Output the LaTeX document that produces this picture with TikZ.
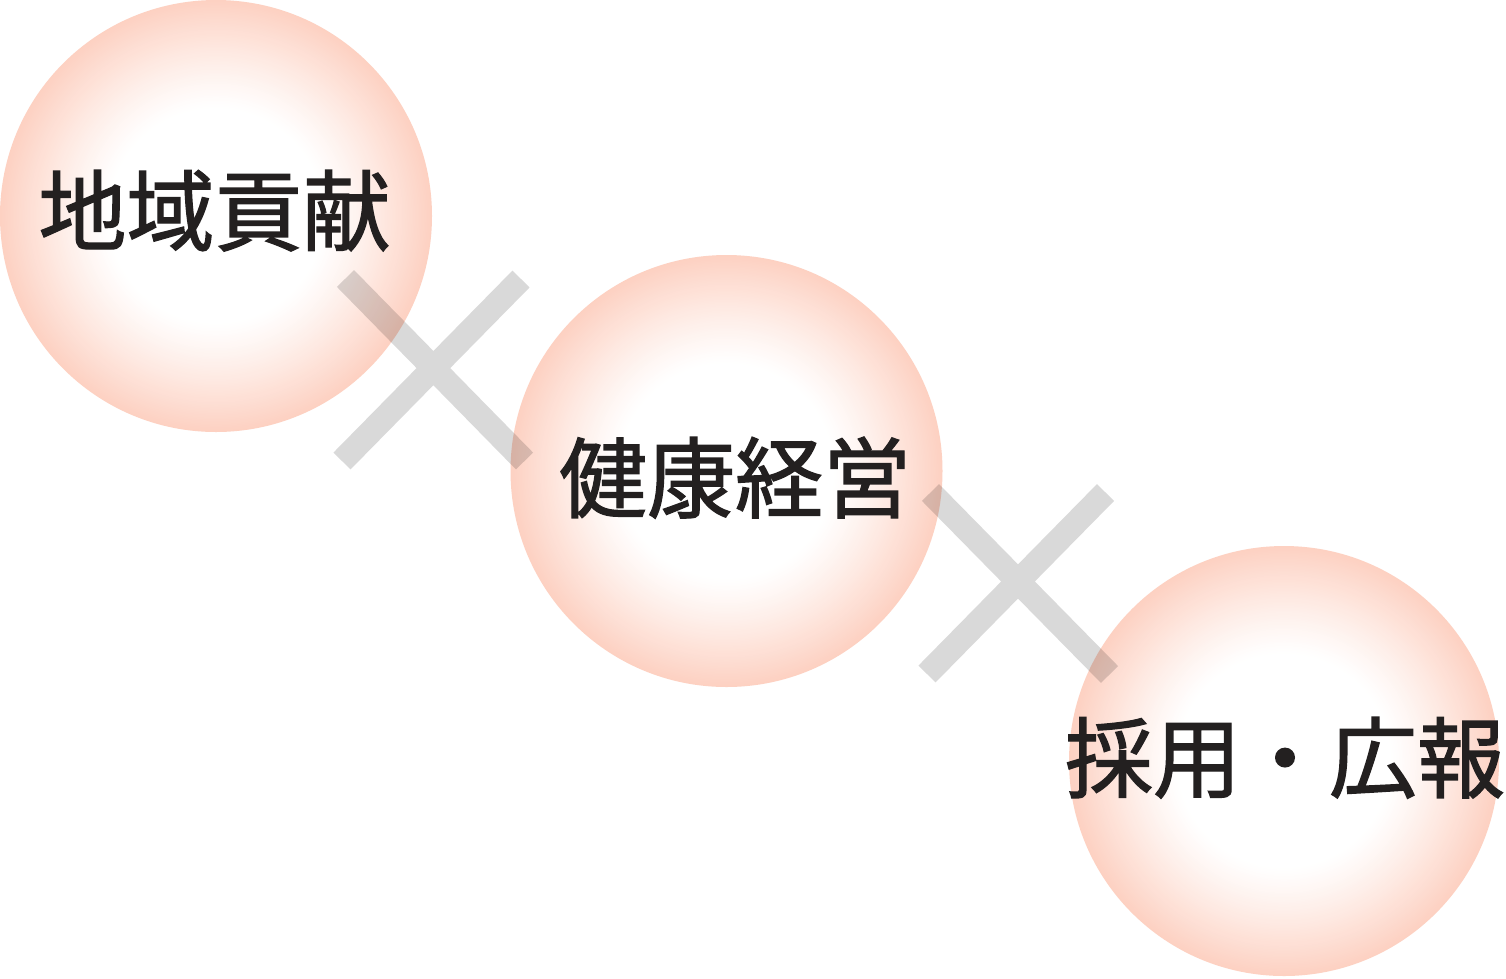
\documentclass[tikz,border=0pt]{standalone}
\usepackage{fontspec}
\newfontfamily\cjk[FakeBold=1.5]{Noto Sans CJK JP}
\definecolor{rimcol}{RGB}{253,209,194}
\definecolor{inkcol}{RGB}{35,32,32}
\tikzset{
  ball/.style={circle, inner sep=0pt, draw=none, minimum size=432pt},
  lbl/.style={font=\cjk\fontsize{88}{88}\selectfont, text=inkcol, inner sep=0pt, anchor=base},
  crossbar/.style={draw=black, draw opacity=0.15, line width=24pt, line cap=butt}
}
\begin{document}
\begin{tikzpicture}[x=1pt,y=-1pt]
\useasboundingbox (0,0) rectangle (1506,978);
\fill[white] (0,0) rectangle (1506,978);
\node[ball] (c1) at (216,216) {};
\node[ball] (c2) at (726.5,471) {};
\node[ball] (c3) at (1284,761) {};
% radial white-to-salmon gradient, built from concentric discs
\foreach \c/\R in {c1/216,c2/216,c3/215}{
  \foreach \i in {0,...,70}{
    \pgfmathsetmacro\rr{\R-\i*\R*0.5/70}
    \pgfmathsetmacro\pp{100*(1-\i/70)^1.15}
    \fill[rimcol!\pp!white] (\c.center) circle[radius=\rr pt];
  }
}
% crosses (each a single stroked path)
\coordinate (x1a) at (345.5,278.5);
\coordinate (x1b) at (524.5,461);
\coordinate (x1c) at (521,279);
\coordinate (x1d) at (342,461);
\draw[crossbar] (x1a) -- (x1b) (x1c) -- (x1d);
\coordinate (x2a) at (930.5,492.5);
\coordinate (x2b) at (1109.5,674.5);
\coordinate (x2c) at (1105.5,492.5);
\coordinate (x2d) at (927,674);
\draw[crossbar] (x2a) -- (x2b) (x2c) -- (x2d);
% labels
\node[lbl] (t1) at (214.5,244) {地域貢献};
\node[lbl] (t2) at (735,511) {健康経営};
\node[lbl] (t3) at (1285,791) {採用・広報};
\end{tikzpicture}
\end{document}
